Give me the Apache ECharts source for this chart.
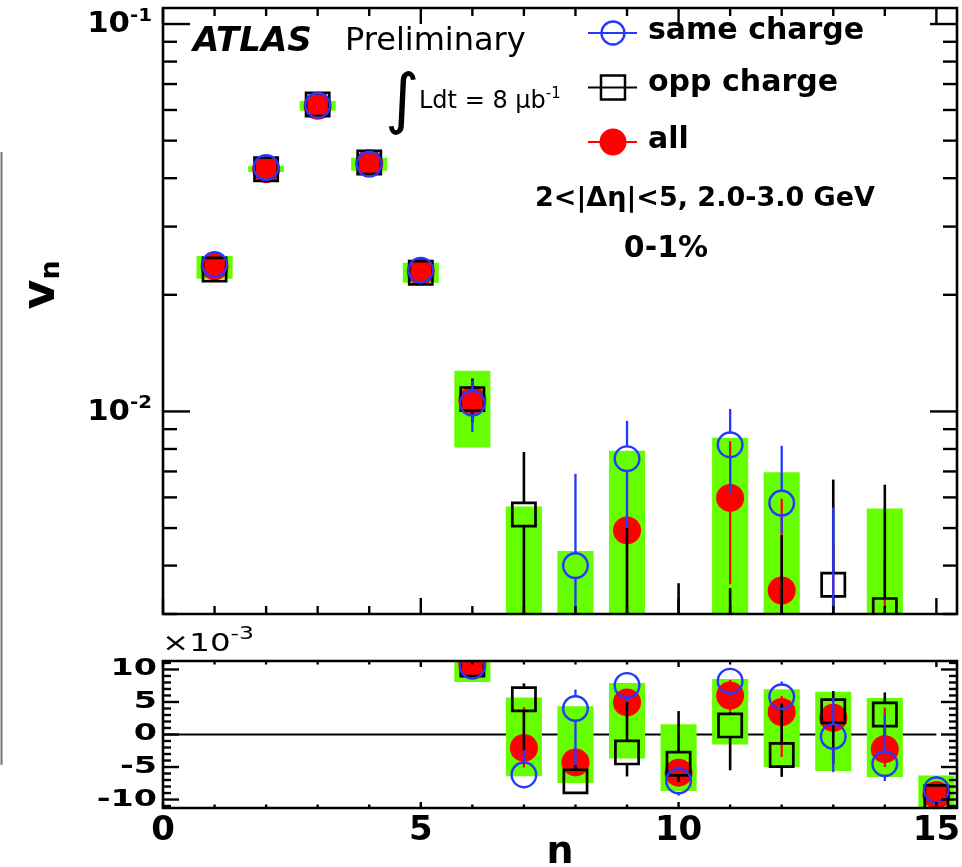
<!DOCTYPE html>
<html><head><meta charset="utf-8">
<script src="https://cdn.jsdelivr.net/npm/echarts@6/dist/echarts.min.js"></script>
<style>html,body{margin:0;padding:0;background:#fff}#c{width:962px;height:867px}</style>
</head><body><div id="c"></div>
<script>
// ---- data (v_n in units of 1e-3) ----
const harmonicN   = [1,2,3,4,5,6,7,8,9,10,11,12,13,14,15];
const sameCharge  = [23.95,42.6,61.7,43.5,23.15,10.5,-6.2,4.0,7.55,-7.15,8.2,5.8,-0.3,-4.5,-8.5];
const sameErrUp   = [0.3,0.4,0.5,0.4,0.3,1.5,3.8,2.9,1.9,2.45,1.95,2.35,5.95,7.6,2.1];
const sameErrDown = [0.3,0.4,0.5,0.4,0.3,1.65,2.1,8.7,2.55,2.25,2.05,0.95,5.5,2.65,1.0];
const oppCharge   = [23.25,42.2,62.0,43.9,22.8,10.76,5.42,-7.2,-2.75,-4.5,1.4,-3.16,3.57,3.07,-9.6];
const oppErrUp    = [0.3,0.4,0.5,0.4,0.3,1.4,2.44,2.5,7.75,8.1,2.1,7.95,3.1,3.4,1.0];
const oppErrDown  = [0.3,0.4,0.5,0.4,0.3,1.4,7.92,1.5,3.7,2.8,6.9,3.35,8.07,3.4,1.0];
const allCharge   = [23.7,42.2,61.5,43.7,23.0,10.68,-2.06,-4.29,4.93,-5.87,5.98,3.45,2.56,-2.26,-9.3];
const allErrUp    = [0.3,0.4,0.5,0.4,0.3,1.2,6.3,2.0,1.8,1.5,2.4,2.5,2.0,6.4,1.0];
const allErrDown  = [0.3,0.4,0.5,0.4,0.3,1.2,3.0,2.0,2.6,1.5,2.4,6.9,2.0,2.75,1.0];
const systLow     = [22.0,41.5,59.7,41.8,21.5,8.07,-6.43,-7.46,-3.7,-8.69,-1.55,-4.98,-5.61,-6.53,-12.5];
const systHigh    = [25.2,43.0,63.3,45.2,24.2,12.74,5.68,4.36,7.92,1.58,8.55,6.97,6.57,5.62,-6.3];
const systOnLogPanel = [1,1,1,1,1,1,1,1,1,1,1,1,0,1,1];
const zeroLine    = [[0,0],[15,0]];

// ---- ticks / labels ----
const xMajorTicks = [0,5,10,15];
const xMinorTicks = [1,2,3,4,6,7,8,9,11,12,13,14];
const logMajorTicks = [10,100];
const logMinorTicks = [3,4,5,6,7,8,9,20,30,40,50,60,70,80,90];
const linMajorTicks = [-10,-5,0,5,10];
const linMinorTicks = [-11,-9,-8,-7,-6,-4,-3,-2,-1,1,2,3,4,6,7,8,9,11];
const xTickLabels = [0,5,10,15];
const logTickLabels = [10,100];
const linTickLabels = [-10,-5,0,5,10];

const BLUE = '#2438ff', RED = '#ff0000', GREEN = '#66ff00', BLACK = '#000000';
const LOG_FLOOR = 1e-3;
const FONT = '"DejaVu Sans", "Liberation Sans", sans-serif';

const chart = echarts.init(document.getElementById('c'), null, {renderer: 'canvas'});

function boxRender(isLog) {
  return function (params, api) {
    const f = y => isLog ? Math.max(y, LOG_FLOOR) : y;
    const x = api.value(0), lo = api.value(1), hi = api.value(2);
    const p1 = api.coord([x - 0.35, f(hi)]);
    const p2 = api.coord([x + 0.35, f(lo)]);
    return {type: 'rect', shape: {x: p1[0], y: p1[1], width: p2[0] - p1[0], height: p2[1] - p1[1]},
            style: {fill: GREEN}};
  };
}

const STY = {
  all:  {color: RED, lw: 2.2, gap: 0},
  same: {color: BLUE, lw: 2.3, gap: 12.5},
  opp:  {color: BLACK, lw: 2.6, gap: 12}
};
function pointRender(kind, isLog) {
  const st = STY[kind];
  return function (params, api) {
    const f = y => isLog ? Math.max(y, LOG_FLOOR) : y;
    const x = api.value(0), v = api.value(1), up = api.value(2), dn = api.value(3);
    const c = api.coord([x, f(v)]);
    const hi = api.coord([x, f(v + up)]);
    const lo = api.coord([x, f(v - dn)]);
    const vis = !isLog || v > 0;
    const topEnd = vis ? c[1] - st.gap : c[1];
    const botStart = vis ? c[1] + st.gap : c[1];
    const ch = [];
    if (hi[1] < topEnd) ch.push({type: 'line', shape: {x1: c[0], y1: hi[1], x2: c[0], y2: topEnd}, style: {stroke: st.color, lineWidth: st.lw}});
    if (lo[1] > botStart) ch.push({type: 'line', shape: {x1: c[0], y1: botStart, x2: c[0], y2: lo[1]}, style: {stroke: st.color, lineWidth: st.lw}});
    if (vis) {
      if (kind === 'all') ch.push({type: 'circle', shape: {cx: c[0], cy: c[1], r: 14}, style: {fill: RED}});
      else if (kind === 'same') ch.push({type: 'circle', shape: {cx: c[0], cy: c[1], r: 12.3}, style: {fill: 'none', stroke: BLUE, lineWidth: 2.4}});
      else ch.push({type: 'rect', shape: {x: c[0] - 11.6, y: c[1] - 11.6, width: 23.2, height: 23.2}, style: {fill: 'none', stroke: BLACK, lineWidth: 2.7}});
    }
    return {type: 'group', children: ch};
  };
}

function frameRender(cfg) {
  return function (params, api) {
    const cs = params.coordSys;
    const L = cs.x, R = cs.x + cs.width, T = cs.y, B = cs.y + cs.height;
    const ch = [];
    const seg = (x1, y1, x2, y2) => ch.push({type: 'line', shape: {x1, y1, x2, y2}, style: {stroke: BLACK, lineWidth: 2.4}});
    const xt = (vals, len) => vals.forEach(v => { const px = api.coord([v, cfg.yRef])[0]; seg(px, B, px, B - len); seg(px, T, px, T + len); });
    const yt = (vals, len) => vals.forEach(v => { const py = api.coord([cfg.xRef, v])[1]; seg(L, py, L + len, py); seg(R, py, R - len, py); });
    xt(xMajorTicks, cfg.xMaj); xt(xMinorTicks, cfg.xMin);
    yt(cfg.yMajor, cfg.yMaj); yt(cfg.yMinor, cfg.yMin);
    ch.push({type: 'rect', shape: {x: L, y: T, width: R - L, height: B - T}, style: {fill: 'none', stroke: BLACK, lineWidth: 2.6}});
    if (cfg.labels) {
      cfg.labels.forEach(v => {
        const py = api.coord([cfg.xRef, v])[1];
        ch.push({type: 'text', x: L - cfg.labelGap, y: py + cfg.labelDy, scaleX: cfg.labelScale, originX: 0, originY: 0,
          style: Object.assign({x: 0, y: 0, align: 'right', verticalAlign: 'middle', fill: BLACK}, cfg.labelStyle(v))});
      });
    }
    return {type: 'group', children: ch};
  };
}

function seriesData(vals, ups, dns) {
  return harmonicN.map((n, i) => [n, vals[i], ups[i], dns[i]]);
}
function systData(isLog) {
  return harmonicN.map((n, i) => [n, systLow[i], systHigh[i]]).filter((d, i) => !isLog || systOnLogPanel[i]);
}

const series = [];
[0, 1].forEach(g => {
  const isLog = g === 0;
  series.push({type: 'custom', name: 'syst', xAxisIndex: g, yAxisIndex: g, clip: true, z: 2,
    renderItem: boxRender(isLog), data: systData(isLog), encode: {x: 0, y: 1}});
  series.push({type: 'custom', name: 'all', xAxisIndex: g, yAxisIndex: g, clip: true, z: 3,
    renderItem: pointRender('all', isLog), data: seriesData(allCharge, allErrUp, allErrDown), encode: {x: 0, y: 1}});
  series.push({type: 'custom', name: 'opp charge', xAxisIndex: g, yAxisIndex: g, clip: true, z: 4,
    renderItem: pointRender('opp', isLog), data: seriesData(oppCharge, oppErrUp, oppErrDown), encode: {x: 0, y: 1}});
  series.push({type: 'custom', name: 'same charge', xAxisIndex: g, yAxisIndex: g, clip: true, z: 5,
    renderItem: pointRender('same', isLog), data: seriesData(sameCharge, sameErrUp, sameErrDown), encode: {x: 0, y: 1}});
});
series.push({type: 'line', xAxisIndex: 1, yAxisIndex: 1, data: zeroLine, symbol: 'none', z: 1,
  lineStyle: {color: BLACK, width: 2}, silent: true});
series.push({type: 'custom', xAxisIndex: 0, yAxisIndex: 0, z: 10, clip: false, silent: true,
  data: [[1, 10]], encode: {x: 0, y: 1},
  renderItem: frameRender({xRef: 1, yRef: 10, yMajor: logMajorTicks, yMinor: logMinorTicks, xMaj: 16, xMin: 8, yMaj: 27, yMin: 14,
    labels: logTickLabels, labelGap: 11, labelDy: -1, labelScale: 1.1,
    labelStyle: v => ({text: '{b|10}{s|' + (Math.round(Math.log10(v)) - 3) + '}', rich: {
      b: {font: 'bold 28px ' + FONT, fill: BLACK, verticalAlign: 'bottom'},
      s: {font: 'bold 18px ' + FONT, fill: BLACK, verticalAlign: 'bottom', padding: [0, 0, 14, 0]}}})})});
series.push({type: 'custom', xAxisIndex: 1, yAxisIndex: 1, z: 10, clip: false, silent: true,
  data: [[1, 0]], encode: {x: 0, y: 1},
  renderItem: frameRender({xRef: 1, yRef: 0, yMajor: linMajorTicks, yMinor: linMinorTicks, xMaj: 6, xMin: 3.5, yMaj: 16, yMin: 8,
    labels: linTickLabels, labelGap: 6, labelDy: 0, labelScale: 1.45,
    labelStyle: v => ({text: String(v), font: 'bold 23px ' + FONT})})});

const hidden = {axisLine: {show: false}, axisTick: {show: false}, splitLine: {show: false}};

const option = {
  backgroundColor: '#ffffff',
  animation: false,
  grid: [
    {left: 163, top: 8, width: 794, height: 606, containLabel: false, outerBoundsMode: 'none'},
    {left: 163, top: 661, width: 794, height: 147, containLabel: false, outerBoundsMode: 'none'}
  ],
  xAxis: [
    Object.assign({gridIndex: 0, type: 'value', min: 0, max: 15.4, axisLabel: {show: false}}, hidden),
    Object.assign({gridIndex: 1, type: 'value', min: 0, max: 15.4,
      axisLabel: {customValues: xTickLabels, margin: 6, color: BLACK, fontFamily: FONT, fontWeight: 'bold', fontSize: 34},
      name: 'n', nameLocation: 'middle', nameGap: 26, nameMoveOverlap: false,
      nameTextStyle: {color: BLACK, fontFamily: FONT, fontWeight: 'bold', fontSize: 38}}, hidden)
  ],
  yAxis: [
    Object.assign({gridIndex: 0, type: 'log', logBase: 10, min: 3, max: 110, axisLabel: {show: false},
      name: '{v|v}{n|n}', nameLocation: 'middle', nameGap: 98, nameMoveOverlap: false,
      nameTextStyle: {padding: [0, 0, 0, 52], rich: {
        v: {fontFamily: FONT, fontWeight: 'bold', fontSize: 46, color: BLACK, verticalAlign: 'bottom'},
        n: {fontFamily: FONT, fontWeight: 'bold', fontSize: 27, color: BLACK, verticalAlign: 'bottom'}
      }}}, hidden),
    Object.assign({gridIndex: 1, type: 'value', min: -11.3, max: 11.3, axisLabel: {show: false}}, hidden)
  ],
  graphic: [
    {type: 'line', shape: {x1: 1.5, y1: 152, x2: 1.5, y2: 765}, style: {stroke: '#777', lineWidth: 2}},
    {type: 'text', x: 193, y: 42, style: {text: 'ATLAS', font: 'italic bold 34px ' + FONT, fill: BLACK, verticalAlign: 'middle'}},
    {type: 'text', x: 345, y: 42, style: {text: 'Preliminary', font: '32px ' + FONT, fill: BLACK, verticalAlign: 'middle'}},
    {type: 'text', x: 385, y: 104, style: {text: '\u222B', font: '66px ' + FONT, fill: BLACK, verticalAlign: 'middle'}},
    {type: 'text', x: 419, y: 100, style: {text: '{a|Ldt = 8 \u03BCb}{s|-1}', verticalAlign: 'middle', rich: {
      a: {font: '24px ' + FONT, fill: BLACK, verticalAlign: 'bottom'},
      s: {font: '15px ' + FONT, fill: BLACK, verticalAlign: 'bottom', padding: [0, 0, 12, 0]}}}},
    {type: 'line', shape: {x1: 588, y1: 33, x2: 637, y2: 33}, style: {stroke: BLUE, lineWidth: 2}},
    {type: 'circle', shape: {cx: 613, cy: 33, r: 11.5}, style: {fill: '#fff', stroke: BLUE, lineWidth: 2.3}},
    {type: 'line', shape: {x1: 588, y1: 33, x2: 637, y2: 33}, style: {stroke: BLUE, lineWidth: 2}},
    {type: 'text', x: 648, y: 31, style: {text: 'same charge', font: 'bold 30px ' + FONT, fill: BLACK, verticalAlign: 'middle'}},
    {type: 'rect', shape: {x: 601, y: 75.5, width: 24, height: 24}, style: {fill: '#fff', stroke: BLACK, lineWidth: 2.5}},
    {type: 'line', shape: {x1: 588, y1: 87.5, x2: 637, y2: 87.5}, style: {stroke: BLACK, lineWidth: 2}},
    {type: 'text', x: 648, y: 83, style: {text: 'opp charge', font: 'bold 30px ' + FONT, fill: BLACK, verticalAlign: 'middle'}},
    {type: 'line', shape: {x1: 588, y1: 142, x2: 637, y2: 142}, style: {stroke: RED, lineWidth: 2}},
    {type: 'circle', shape: {cx: 613, cy: 142, r: 13.5}, style: {fill: RED}},
    {type: 'text', x: 648, y: 140, style: {text: 'all', font: 'bold 30px ' + FONT, fill: BLACK, verticalAlign: 'middle'}},
    {type: 'text', x: 705, y: 199, style: {text: '2<|\u0394\u03B7|<5, 2.0-3.0 GeV', font: 'bold 27px ' + FONT, fill: BLACK, align: 'center', verticalAlign: 'middle'}},
    {type: 'text', x: 666, y: 249, style: {text: '0-1%', font: 'bold 30px ' + FONT, fill: BLACK, align: 'center', verticalAlign: 'middle'}},
    {type: 'text', x: 162, y: 641, scaleX: 1.3, style: {text: '{a|\u00D710}{s|-3}', verticalAlign: 'middle', rich: {
      a: {font: '25px ' + FONT, fill: BLACK, verticalAlign: 'bottom'},
      s: {font: '18px ' + FONT, fill: BLACK, verticalAlign: 'bottom', padding: [0, 0, 13, 0]}}}}
  ],
  series: series
};
chart.setOption(option);
</script></body></html>
